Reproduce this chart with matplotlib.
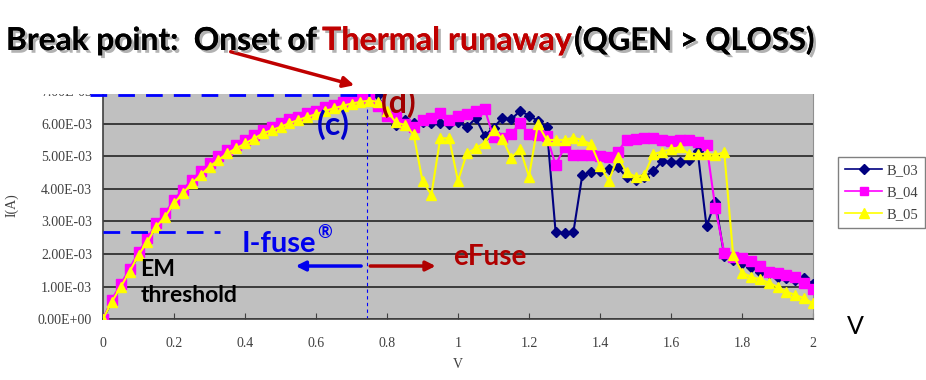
import numpy as np
import matplotlib.pyplot as plt
import matplotlib.patheffects as pe
from matplotlib.lines import Line2D

# ---- data, V in volts, I in mA (scaled to A below)
volts = [i * 0.025 for i in range(81)]

rise = [0.00, 0.53, 0.99, 1.46, 1.97, 2.38, 2.84, 3.15, 3.56, 3.87,
        4.17, 4.43, 4.69, 4.89, 5.10, 5.25, 5.40, 5.55, 5.71, 5.81,
        5.91, 6.03, 6.12, 6.22, 6.30, 6.40, 6.48, 6.56, 6.63, 6.68]

b03_tail = [6.80, 6.88, 6.30, 5.97, 6.12, 6.02, 6.07, 6.02, 6.02, 5.99,
            6.07, 5.90, 6.18, 5.63, 5.89, 6.18, 6.15, 6.40, 6.26, 6.10,
            5.90, 2.67, 2.65, 2.67, 4.42, 4.53, 4.55, 4.63, 4.68, 4.36,
            4.29, 4.38, 4.55, 4.85, 4.84, 4.84, 4.89, 5.18, 2.86, 3.61,
            1.94, 1.83, 1.71, 1.61, 1.46, 1.41, 1.30, 1.25, 1.20, 1.25, 1.08]

b04_tail = [6.82, 6.55, 6.25, 6.20, 6.00, 5.92, 6.12, 6.19, 6.35, 6.12,
            6.24, 6.32, 6.40, 6.47, 5.59, 5.57, 5.70, 6.04, 5.69, 5.66,
            5.62, 4.74, 5.28, 5.05, 5.05, 5.04, 5.02, 4.98, 5.15, 5.51,
            5.54, 5.56, 5.58, 5.52, 5.47, 5.51, 5.51, 5.46, 5.35, 3.41,
            2.04, 1.92, 1.87, 1.77, 1.62, 1.46, 1.41, 1.35, 1.30, 1.12, 0.91]

b05_tail = [6.72, 6.68, 6.40, 6.05, 5.97, 5.68, 4.25, 3.82, 5.56, 5.56,
            4.25, 5.10, 5.25, 5.43, 5.82, 5.54, 4.96, 5.23, 4.38, 5.99,
            5.51, 5.51, 5.51, 5.58, 5.51, 5.37, 4.72, 4.25, 4.99, 4.51,
            4.38, 4.43, 5.07, 5.15, 5.22, 5.29, 5.08, 5.08, 5.08, 5.05,
            5.13, 1.97, 1.43, 1.30, 1.22, 1.12, 0.99, 0.84, 0.74, 0.64, 0.48]

b04_rise = [0.00, 0.60, 1.07, 1.55, 2.06, 2.48, 2.94, 3.26, 3.67, 3.98,
            4.28, 4.54, 4.80, 5.00, 5.21, 5.36, 5.51, 5.66, 5.82, 5.92,
            6.02, 6.14, 6.23, 6.33, 6.41, 6.51, 6.59, 6.67, 6.74, 6.79]

b03 = np.array(rise + b03_tail) * 1e-3
b04 = np.array(b04_rise + b04_tail) * 1e-3
b05 = np.array(rise + b05_tail) * 1e-3

xticks = [0, 0.2, 0.4, 0.6, 0.8, 1, 1.2, 1.4, 1.6, 1.8, 2]
xlabels = ['0', '0.2', '0.4', '0.6', '0.8', '1', '1.2', '1.4', '1.6', '1.8', '2']
yticks = [i * 1e-3 for i in range(8)]
ylabels = ['0.00E+00', '1.00E-03', '2.00E-03', '3.00E-03', '4.00E-03',
           '5.00E-03', '6.00E-03', '7.00E-03']

serif = 'Liberation Serif'
sans = 'Lato'

fig = plt.figure(figsize=(9.26, 3.8), dpi=100)
ax = fig.add_axes([103/926, 61/380, 710/926, 227.5/380])
ax.set_facecolor('#C0C0C0')

ax.plot(volts, b03, color='#000080', lw=1.5, marker='D', ms=5, label='B_03', zorder=3)
ax.plot(volts, b04, color='#FF00FF', lw=1.5, marker='s', ms=6.5, label='B_04', zorder=4)
ax.plot(volts, b05, color='#FFFF00', lw=1.5, marker='^', ms=7.5, label='B_05', zorder=5)

ax.set_xlim(0, 2)
ax.set_ylim(0, 7e-3)
ax.set_xticks(xticks)
ax.set_xticklabels(xlabels, family=serif, fontsize=10, color='#404040')
ax.set_yticks(yticks)
ax.set_yticklabels(ylabels, family=serif, fontsize=10, color='#404040')
ax.tick_params(axis='x', direction='in', length=4, pad=13, color='#404040')
ax.tick_params(axis='y', length=0, pad=8)
ax.grid(axis='y', color='#303030', lw=1.3)
ax.set_axisbelow(True)
ax.spines['top'].set_visible(False)
ax.spines['right'].set_color('#909090')
ax.spines['left'].set_color('#404040')
ax.spines['bottom'].set_color('#404040')
ax.spines['left'].set_linewidth(1.2)
ax.spines['bottom'].set_linewidth(1.2)
ax.set_xlabel('V', family=serif, fontsize=10, color='#404040', labelpad=6)
ax.set_ylabel('I(A)', family=serif, fontsize=10, color='#404040', labelpad=14)

# dashed guide lines
ax.plot([-0.037, 0.752], [6.89e-3, 6.89e-3], color='#0000FF', lw=2, dashes=(6, 4), clip_on=False, zorder=6)
ax.plot([0, 0.33], [2.69e-3, 2.69e-3], color='#0000FF', lw=2, dashes=(6, 4), zorder=6)
ax.axvline(0.745, color='#0000FF', lw=0.8, dashes=(3, 3), zorder=2)

# annotations
ax.text(0.65, 5.97e-3, '(c)', family=sans, fontweight='bold', fontsize=23, color='#0000CC', ha='center', va='center', zorder=7)
ax.text(0.834, 6.65e-3, '(d)', family=sans, fontweight='bold', fontsize=23, color='#A00000', ha='center', va='center', zorder=7)
ax.text(0.39, 2.32e-3, 'I-fuse', family=sans, fontweight='bold', fontsize=21, color='#0000EE', ha='left', va='center', zorder=7)
ax.text(0.603, 2.66e-3, '®', family=sans, fontweight='bold', fontsize=13, color='#0000EE', ha='left', va='center', zorder=7)
ax.text(1.09, 1.9e-3, 'eFuse', family=sans, fontweight='bold', fontsize=20, color='#B00000', ha='center', va='center', zorder=7)
ax.text(0.105, 1.12e-3, 'EM\nthreshold', family=sans, fontweight='bold', fontsize=16.5, color='black', ha='left', va='center', linespacing=1.3, zorder=7)
ax.annotate('', xy=(0.535, 1.63e-3), xytext=(0.735, 1.63e-3),
            arrowprops=dict(arrowstyle='-|>', color='#0000EE', lw=2.5, mutation_scale=14), zorder=7)
ax.annotate('', xy=(0.945, 1.63e-3), xytext=(0.745, 1.63e-3),
            arrowprops=dict(arrowstyle='-|>', color='#B00000', lw=2.5, mutation_scale=14), zorder=7)

# legend outside right
handles = [Line2D([], [], color='#000080', lw=1.2, marker='D', ms=5),
           Line2D([], [], color='#FF00FF', lw=1.2, marker='s', ms=6),
           Line2D([], [], color='#FFFF00', lw=1.2, marker='^', ms=7)]
leg = fig.legend(handles, ['B_03', 'B_04', 'B_05'], loc='upper left',
                 bbox_to_anchor=(838/926, 1 - 157/380), frameon=True, fancybox=False,
                 prop={'family': serif, 'size': 10.5}, handlelength=2.6, borderpad=0.45,
                 labelspacing=0.62, handletextpad=0.3, borderaxespad=0)
leg.get_frame().set_edgecolor('#606060')
leg.get_frame().set_linewidth(1.0)
for t in leg.get_texts():
    t.set_color('#404040')

# white cover over the top of the chart (slide crop)
fig.patches.append(plt.Rectangle((0, 1 - 94/380), 1, 94/380, transform=fig.transFigure,
                                 facecolor='white', edgecolor='none', zorder=5))

# title pieces and red arrow
shadow = [pe.withSimplePatchShadow(offset=(2, -2), shadow_rgbFace='#808080', alpha=0.6), pe.Normal()]
ty = 1 - 50/380
fig.text(6/926, ty, 'Break point:  Onset of', family=sans, fontweight='bold', fontsize=22.8,
         color='black', va='baseline', zorder=6, path_effects=shadow)
fig.text(322/926, ty, 'Thermal runaway', family=sans, fontweight='bold', fontsize=23.2,
         color='#C00000', va='baseline', zorder=6, path_effects=shadow)
fig.text(574/926, ty, '(QGEN > QLOSS)', family=sans, fontweight='bold', fontsize=22.4,
         color='black', va='baseline', zorder=6, path_effects=shadow)
fig.text(855/926, 1 - 327/380, 'V', family=sans, fontsize=18, color='black', ha='center', va='center')

fig.add_artist(plt.Annotation('', xy=(357/926, 1 - 86/380), xytext=(228/926, 1 - 51/380),
                              xycoords='figure fraction', textcoords='figure fraction',
                              arrowprops=dict(arrowstyle='-|>', color='#C00000', lw=2.5, mutation_scale=16),
                              zorder=6))

fig.savefig('out.png', dpi=100)
